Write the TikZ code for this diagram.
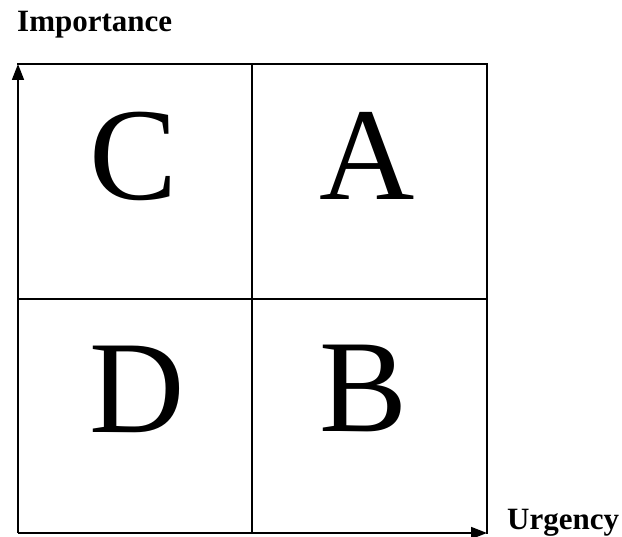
\documentclass[tikz,border=0pt]{standalone}
\usepackage{fontspec}
\setmainfont{Liberation Serif}
\usetikzlibrary{arrows.meta}
\begin{document}
\begin{tikzpicture}[x=1pt,y=-1pt,
  grid/.style={line width=1.7pt, line cap=rect},
  axis/.style={line width=1.7pt, -{Triangle[length=16pt,width=12pt]}},
  axislabel/.style={inner sep=0pt, anchor=base west, font=\fontsize{31}{31}\selectfont\bfseries},
  quadlabel/.style={inner sep=0pt, anchor=base, font=\fontsize{132}{132}\selectfont}]
  \useasboundingbox (0,0) rectangle (622,537);
  % corners and mid points of the matrix
  \coordinate (bl) at (18,533);
  \coordinate (tl) at (18,64);
  \coordinate (tr) at (487,64);
  \coordinate (br) at (487,533);
  \coordinate (tm) at (252,64);
  \coordinate (bm) at (252,533);
  \coordinate (lm) at (18,299);
  \coordinate (rm) at (487,299);
  % outer frame and dividers
  \draw[grid] (tl) -- (tr) -- (br);
  \draw[grid] (tm) -- (bm);
  \draw[grid] (lm) -- (rm);
  % axes
  \draw[axis] (bl) -- (tl);
  \draw[axis] (bl) -- (br);
  % axis labels
  \node[axislabel] (imp) at (17,32) {Importance};
  \node[axislabel] (urg) at (507,530) {Urgency};
  % quadrant letters
  \node[quadlabel] (c) at (134,200) {C};
  \node[quadlabel] (a) at (367,200) {A};
  \node[quadlabel] (d) at (137,433) {D};
  \node[quadlabel] (b) at (364,432) {B};
\end{tikzpicture}
\end{document}
